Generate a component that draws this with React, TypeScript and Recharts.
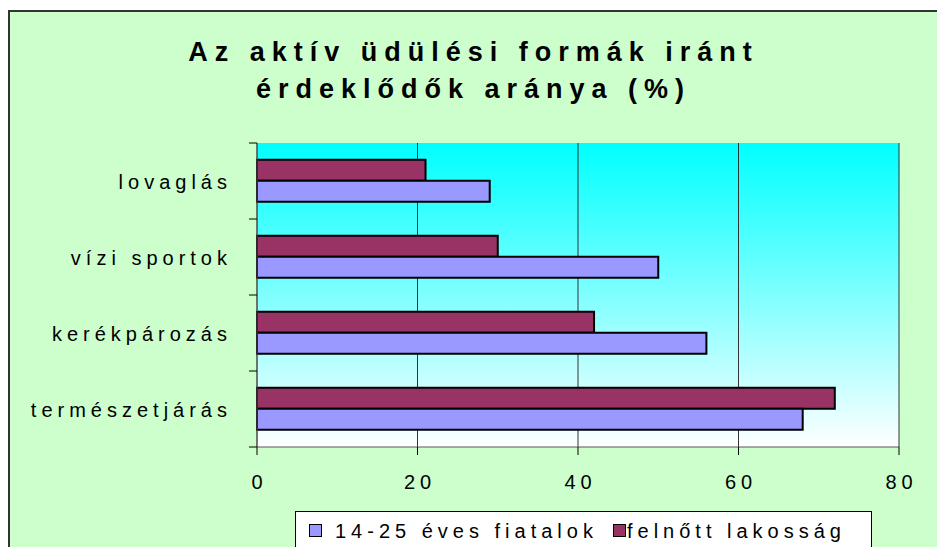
import { BarChart, Bar, XAxis, YAxis, CartesianGrid } from "recharts";

const categories = ["lovaglás", "vízi sportok", "kerékpározás", "természetjárás"];
const adultValues = [21, 30, 42, 72];
const youthValues = [29, 50, 56, 68];
const xTicks = [0, 20, 40, 60, 80];
const titleLines = ["Az aktív üdülési formák iránt", "érdeklődők aránya (%)"];
const seriesNames = ["14-25 éves fiatalok", "felnőtt lakosság"];

const data = categories.map((name, i) => ({
  name,
  adult: adultValues[i],
  youth: youthValues[i],
}));

const FONT = '"Liberation Sans", Arial, sans-serif';
const W = 937;
const H = 547;
const PLOT_TOP = 143;
const PLOT_BOTTOM = 447;
const BAND = (PLOT_BOTTOM - PLOT_TOP) / categories.length;

const YTick = (props: any) => {
  const { x, y, payload, index } = props;
  return (
    <g>
      <line x1={x - 8} y1={y - BAND / 2} x2={x} y2={y - BAND / 2} stroke="#000" />
      {index === categories.length - 1 && (
        <line x1={x - 8} y1={y + BAND / 2} x2={x} y2={y + BAND / 2} stroke="#000" />
      )}
      <text
        x={x - 25}
        y={y + 8}
        textAnchor="end"
        fontFamily={FONT}
        fontSize={20}
        letterSpacing={5}
        fill="#000"
      >
        {payload.value}
      </text>
    </g>
  );
};

const XTick = (props: any) => {
  const { x, y, payload } = props;
  return (
    <text
      x={x + 2.5}
      y={y + 34}
      textAnchor="middle"
      fontFamily={FONT}
      fontSize={20}
      letterSpacing={5}
      fill="#000"
    >
      {payload.value}
    </text>
  );
};

const legendColors = ["#9999FF", "#993366"];
const legendSquareX = [13, 317];
const legendTextX = [39, 331];

export default function App() {
  return (
    <div
      style={{
        position: "absolute",
        left: 0,
        top: 0,
        width: W,
        height: H,
        overflow: "hidden",
        background: "#fff",
        fontFamily: FONT,
      }}
    >
      <div
        style={{
          position: "absolute",
          left: 8,
          top: 10,
          width: 960,
          height: 580,
          background: "#CCFFCC",
          border: "2px solid #333",
        }}
      />
      <div
        style={{
          position: "absolute",
          left: 0,
          top: 34,
          width: 947,
          textAlign: "center",
          fontSize: 27,
          fontWeight: 700,
          lineHeight: "37px",
          letterSpacing: 7,
          color: "#000",
        }}
      >
        {titleLines.map((t) => (
          <div key={t}>{t}</div>
        ))}
      </div>
      <div style={{ position: "absolute", left: 0, top: 0 }}>
        <BarChart
          width={W}
          height={H}
          data={data}
          layout="vertical"
          margin={{ top: PLOT_TOP, right: 38, bottom: H - PLOT_BOTTOM - 40, left: 0 }}
          barCategoryGap="22%"
          barGap={0}
        >
          <defs>
            <linearGradient id="plotBg" x1="0" y1="0" x2="0" y2="1">
              <stop offset="0%" stopColor="#00FFFF" />
              <stop offset="100%" stopColor="#FFFFFF" />
            </linearGradient>
          </defs>
          <CartesianGrid
            horizontal={false}
            stroke="#333"
            fill="url(#plotBg)"
            fillOpacity={1}
          />
          <XAxis
            type="number"
            domain={[0, 80]}
            ticks={xTicks}
            height={40}
            tickSize={8}
            tickMargin={0}
            tickLine={{ stroke: "#000" }}
            axisLine={{ stroke: "#555" }}
            tick={<XTick />}
            interval={0}
          />
          <YAxis
            type="category"
            dataKey="name"
            width={257}
            tickSize={0}
            tickMargin={0}
            tickLine={false}
            axisLine={{ stroke: "#555" }}
            tick={<YTick />}
            interval={0}
          />
          <Bar
            dataKey="adult"
            name={seriesNames[1]}
            fill="#993366"
            stroke="#000"
            strokeWidth={2}
            isAnimationActive={false}
          />
          <Bar
            dataKey="youth"
            name={seriesNames[0]}
            fill="#9999FF"
            stroke="#000"
            strokeWidth={2}
            isAnimationActive={false}
          />
        </BarChart>
      </div>
      <div
        style={{
          position: "absolute",
          left: 295,
          top: 511,
          width: 575,
          height: 60,
          background: "#fff",
          border: "1px solid #000",
        }}
      >
        {seriesNames.map((s, i) => (
          <div key={s}>
            <div
              style={{
                position: "absolute",
                left: legendSquareX[i],
                top: 12,
                width: 11,
                height: 11,
                background: legendColors[i],
                border: "1px solid #000",
              }}
            />
            <div
              style={{
                position: "absolute",
                left: legendTextX[i],
                top: 9,
                fontSize: 20,
                lineHeight: "20px",
                letterSpacing: 5,
                whiteSpace: "nowrap",
                color: "#000",
              }}
            >
              {s}
            </div>
          </div>
        ))}
      </div>
    </div>
  );
}
